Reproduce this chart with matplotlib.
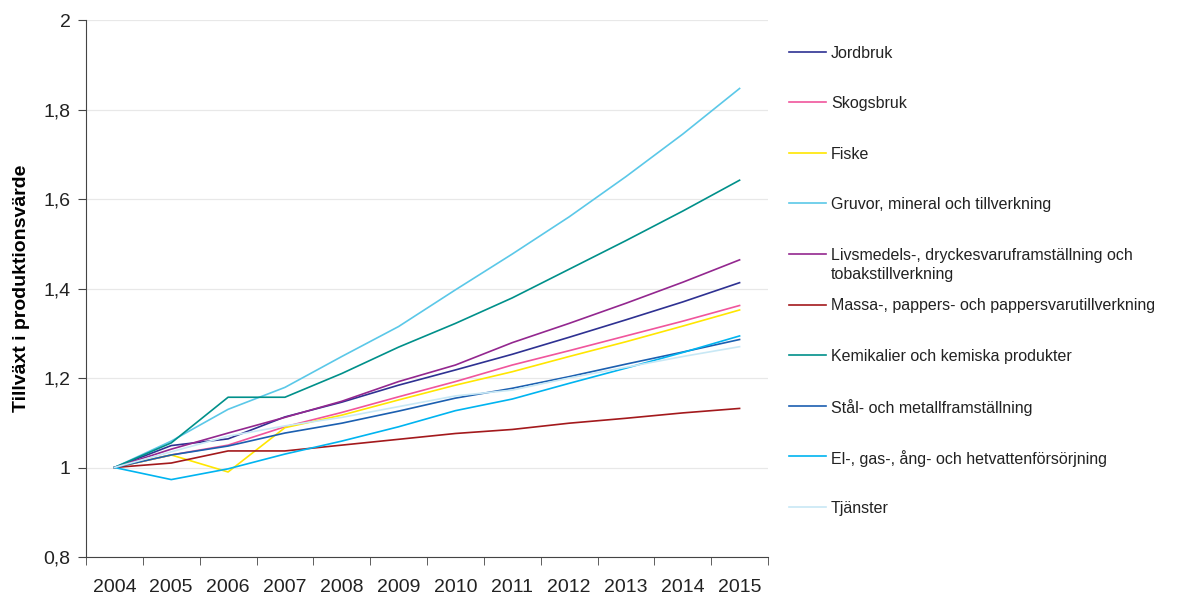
import numpy as np
import matplotlib
matplotlib.use('Agg')
import matplotlib.pyplot as plt
from matplotlib.lines import Line2D

plt.rcParams['font.family'] = ['Liberation Sans', 'DejaVu Sans']

# data
years = ['2004', '2005', '2006', '2007', '2008', '2009', '2010', '2011', '2012', '2013', '2014', '2015']

jordbruk = [1.0, 1.049, 1.064, 1.113, 1.146, 1.184, 1.218, 1.253, 1.291, 1.33, 1.37, 1.413]
skogsbruk = [1.0, 1.028, 1.05, 1.091, 1.123, 1.158, 1.192, 1.229, 1.261, 1.294, 1.327, 1.362]
fiske = [1.0, 1.028, 0.99, 1.089, 1.117, 1.151, 1.184, 1.214, 1.248, 1.281, 1.316, 1.352]
gruvor = [1.0, 1.059, 1.13, 1.179, 1.248, 1.315, 1.397, 1.477, 1.56, 1.65, 1.745, 1.847]
livsmedel = [1.0, 1.041, 1.077, 1.112, 1.148, 1.192, 1.229, 1.279, 1.322, 1.367, 1.414, 1.464]
massa = [1.0, 1.01, 1.037, 1.037, 1.05, 1.063, 1.076, 1.085, 1.099, 1.11, 1.122, 1.132]
kemikalier = [1.0, 1.055, 1.157, 1.157, 1.21, 1.269, 1.322, 1.379, 1.443, 1.507, 1.573, 1.642]
stal = [1.0, 1.028, 1.048, 1.077, 1.099, 1.126, 1.155, 1.177, 1.203, 1.231, 1.258, 1.286]
el = [1.0, 0.973, 0.997, 1.03, 1.059, 1.091, 1.127, 1.153, 1.188, 1.222, 1.257, 1.294]
tjanster = [1.0, 1.035, 1.07, 1.093, 1.112, 1.136, 1.16, 1.173, 1.2, 1.224, 1.248, 1.27]

labels = ['Jordbruk', 'Skogsbruk', 'Fiske', 'Gruvor, mineral och tillverkning',
          'Livsmedels-, dryckesvaruframställning och\ntobakstillverkning',
          'Massa-, pappers- och pappersvarutillverkning',
          'Kemikalier och kemiska produkter', 'Stål- och metallframställning',
          'El-, gas-, ång- och hetvattenförsörjning', 'Tjänster']
series = [jordbruk, skogsbruk, fiske, gruvor, livsmedel, massa, kemikalier, stal, el, tjanster]
colors = ['#2E3192', '#F0559C', '#FFE600', '#5BC8E8', '#93278F', '#A3191C',
          '#00908A', '#1B5FB0', '#00B4F0', '#C8E8F5']

fig = plt.figure(figsize=(11.85, 5.98), dpi=100)
ax = fig.add_axes([86 / 1185, 1 - 557 / 598, (768 - 86) / 1185, (557 - 20) / 598])

x = np.arange(len(years))
for vals, c in zip(series, colors):
    ax.plot(x, vals, color=c, lw=1.2)

ax.set_xlim(-0.5, len(years) - 0.5)
ax.set_ylim(0.8, 2.0)
yt = np.arange(0.8, 2.01, 0.2)
ax.set_yticks(yt)
ax.set_yticklabels([('%g' % round(v, 1)).replace('.', ',') for v in yt], fontsize=14, color='#222222')
ax.set_xticks(x)
ax.set_xticklabels(years, fontsize=14, color='#222222')
ax.set_xticks(np.arange(-0.5, len(years)), minor=True)
ax.tick_params(axis='x', which='major', length=0, pad=16)
ax.tick_params(axis='x', which='minor', length=6, direction='out', color='#444444')
ax.tick_params(axis='y', length=6, direction='out', pad=5, color='#444444')

ax.grid(axis='y', color='#E8E8E8', lw=0.9)
ax.set_axisbelow(True)
for s in ['top', 'right']:
    ax.spines[s].set_visible(False)
ax.spines['left'].set_color('#444444')
ax.spines['bottom'].set_color('#444444')

ax.set_ylabel('Tillväxt i produktionsvärde', fontsize=14, fontweight='bold', labelpad=10)

# legend drawn by hand to keep the even spacing of the original
for i, (lab, c) in enumerate(zip(labels, colors)):
    ypx = 52 + i * 50.5
    yf = 1 - ypx / 598
    fig.add_artist(Line2D([789 / 1185, 826 / 1185], [yf, yf], color=c, lw=1.2))
    fig.text(831 / 1185, 1 - (ypx - 6) / 598, lab, fontsize=11.5, va='top', ha='left',
             color='#222222', linespacing=1.35)

fig.savefig('out.png', dpi=100)
